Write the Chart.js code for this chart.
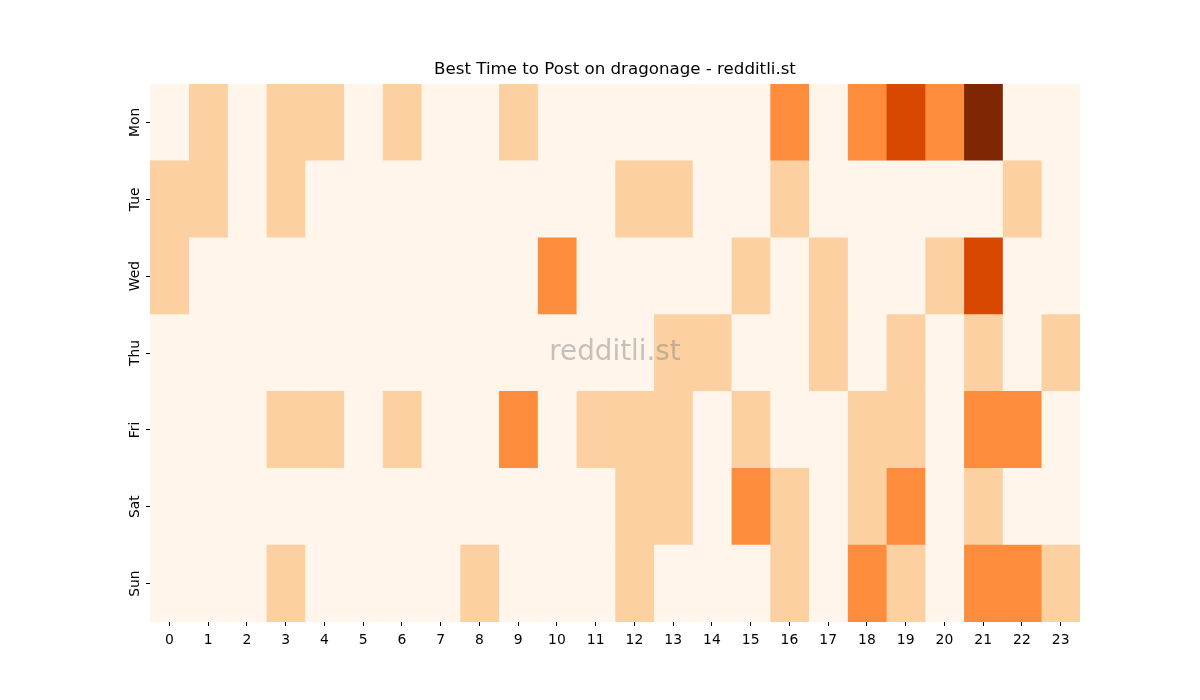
<!DOCTYPE html>
<html>
<head>
<meta charset="utf-8">
<title>Best Time to Post on dragonage</title>
<script src="https://cdn.jsdelivr.net/npm/chart.js@4/dist/chart.umd.min.js"></script>
<style>
  html, body { margin: 0; padding: 0; background: #fff; }
  #wrap { width: 1200px; height: 700px; }
</style>
</head>
<body>
<div id="wrap"><canvas id="heatmap"></canvas></div>
<script>
const days = ["Mon", "Tue", "Wed", "Thu", "Fri", "Sat", "Sun"];
const hours = [0, 1, 2, 3, 4, 5, 6, 7, 8, 9, 10, 11, 12, 13, 14, 15, 16, 17, 18, 19, 20, 21, 22, 23];

// post counts per hour, one row per day
const mon = [0, 1, 0, 1, 1, 0, 1, 0, 0, 1, 0, 0, 0, 0, 0, 0, 2, 0, 2, 3, 2, 4, 0, 0];
const tue = [1, 1, 0, 1, 0, 0, 0, 0, 0, 0, 0, 0, 1, 1, 0, 0, 1, 0, 0, 0, 0, 0, 1, 0];
const wed = [1, 0, 0, 0, 0, 0, 0, 0, 0, 0, 2, 0, 0, 0, 0, 1, 0, 1, 0, 0, 1, 3, 0, 0];
const thu = [0, 0, 0, 0, 0, 0, 0, 0, 0, 0, 0, 0, 0, 1, 1, 0, 0, 1, 0, 1, 0, 1, 0, 1];
const fri = [0, 0, 0, 1, 1, 0, 1, 0, 0, 2, 0, 1, 1, 1, 0, 1, 0, 0, 1, 1, 0, 2, 2, 0];
const sat = [0, 0, 0, 0, 0, 0, 0, 0, 0, 0, 0, 0, 1, 1, 0, 2, 1, 0, 1, 2, 0, 1, 0, 0];
const sun = [0, 0, 0, 1, 0, 0, 0, 0, 1, 0, 0, 0, 1, 0, 0, 0, 1, 0, 2, 1, 0, 2, 2, 1];

const grid = [mon, tue, wed, thu, fri, sat, sun];

// matplotlib "Oranges" at 0, .25, .5, .75, 1
const palette = ["#fff5eb", "#fdd0a2", "#fd8d3c", "#d94801", "#7f2704"];
const maxCount = 4;

function colorFor(v) {
    const idx = Math.round((v / maxCount) * (palette.length - 1));
    return palette[idx];
}

// one dataset per hour, each bar spans [h - 0.5, h + 0.5] on the hour axis
const datasets = hours.map(function (h) {
    return {
        label: String(h),
        data: days.map(function () { return [h - 0.5, h + 0.5]; }),
        backgroundColor: grid.map(function (row) { return colorFor(row[h]); }),
        borderWidth: 0,
        barPercentage: 1,
        categoryPercentage: 1,
    };
});

const watermark = {
    id: "watermark",
    afterDatasetsDraw(chart) {
        const a = chart.chartArea;
        const ctx = chart.ctx;
        ctx.save();
        ctx.font = "27.8px 'DejaVu Sans'";
        ctx.fillStyle = "rgba(128, 128, 128, 0.45)";
        ctx.textAlign = "center";
        ctx.textBaseline = "middle";
        ctx.fillText("redditli.st", (a.left + a.right) / 2, (a.top + a.bottom) / 2);
        ctx.restore();
    },
};

Chart.defaults.font.family = "'DejaVu Sans', sans-serif";
Chart.defaults.color = "#000";

new Chart(document.getElementById("heatmap"), {
    type: "bar",
    data: { labels: days, datasets: datasets },
    plugins: [watermark],
    options: {
        indexAxis: "y",
        responsive: true,
        maintainAspectRatio: false,
        animation: false,
        layout: { padding: { left: 0, right: 120, top: 60, bottom: 38 } },
        plugins: {
            legend: { display: false },
            tooltip: { enabled: false },
            title: {
                display: true,
                fullSize: false,
                text: "Best Time to Post on dragonage - redditli.st",
                font: { size: 16.67, weight: "normal" },
                color: "#000",
                padding: { top: 0, bottom: 4 },
            },
        },
        scales: {
            y: {
                stacked: true,
                grid: { display: true, offset: false, drawOnChartArea: false, drawTicks: true, tickLength: 4, color: "#000" },
                border: { display: false },
                ticks: { font: { size: 13.9 }, minRotation: 90, maxRotation: 90, crossAlign: "center", padding: -5 },
                afterFit(scale) { scale.width = 150; },
            },
            x: {
                type: "linear",
                min: -0.5,
                max: 23.5,
                grid: { display: true, drawOnChartArea: false, drawTicks: true, tickLength: 4, color: "#000" },
                border: { display: false },
                ticks: { font: { size: 13.9 }, maxRotation: 0, padding: 6 },
                afterBuildTicks(scale) {
                    scale.ticks = hours.map(function (h) { return { value: h }; });
                },
                afterFit(scale) { scale.height = 40; },
            },
        },
    },
});
</script>
</body>
</html>
